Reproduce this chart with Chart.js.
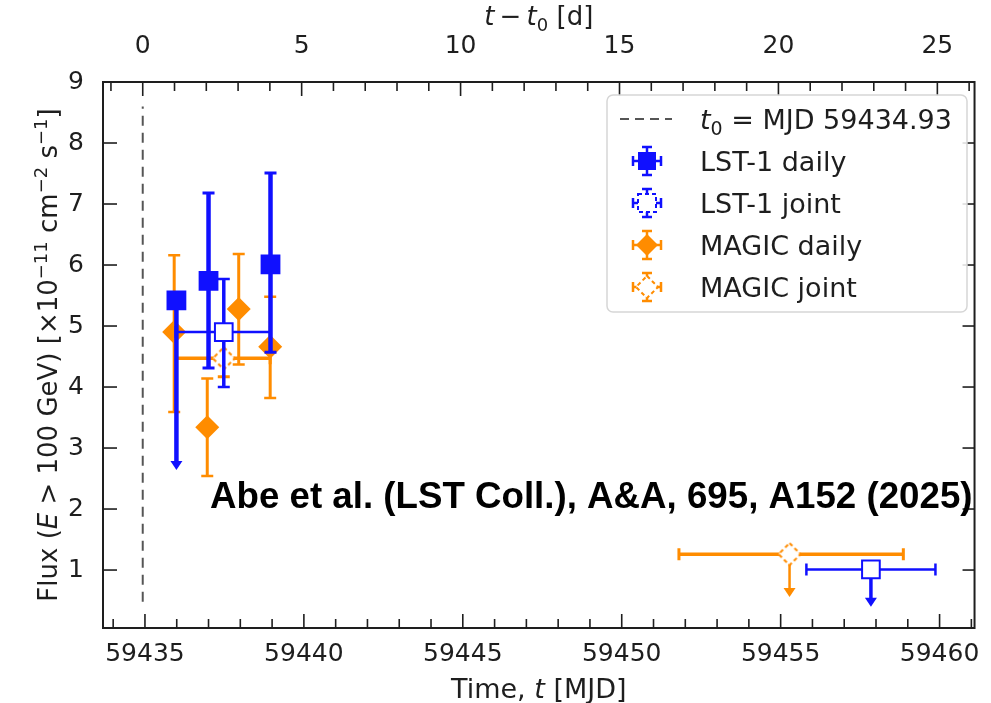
<!DOCTYPE html>
<html lang="en">
<head>
<meta charset="UTF-8">
<title>Flux light curve - LST-1 and MAGIC</title>
<style>
    html, body { margin: 0; padding: 0; background: #fff; }
    #wrap { width: 991px; height: 703px; position: relative; }
</style>
</head>
<body>
<div id="wrap"><canvas id="lc"></canvas></div>
<script src="https://cdn.jsdelivr.net/npm/chart.js"></script>
<script>
    // reference epoch (MJD)
    const t0 = 59434.93;
    const t0LineFlux = [0.48, 8.6];

    // LST-1 daily
    const lstDailyT = [59435.99, 59437.00, 59438.95];
    const lstDailyFlux = [5.42, 5.74, 6.01];
    const lstDailyLow = [2.64, 4.31, 4.57];
    const lstDailyHigh = [5.42, 7.18, 7.51];
    const lstDailyArrow = [true, false, false];

    // LST-1 joint
    const lstJointT = [59437.48, 59457.84];
    const lstJointFrom = [59435.97, 59455.81];
    const lstJointTo = [59438.94, 59459.87];
    const lstJointFlux = [4.90, 1.01];
    const lstJointLow = [4.00, 0.40];
    const lstJointHigh = [5.77, 1.01];
    const lstJointArrow = [false, true];

    // MAGIC daily
    const magicDailyT = [59435.92, 59436.96, 59437.95, 59438.94];
    const magicDailyFlux = [4.90, 3.34, 5.28, 4.66];
    const magicDailyLow = [3.59, 2.54, 4.37, 3.82];
    const magicDailyHigh = [6.16, 4.14, 6.18, 5.48];

    // MAGIC joint
    const magicJointT = [59437.48, 59455.28];
    const magicJointFrom = [59435.97, 59451.80];
    const magicJointTo = [59438.94, 59458.86];
    const magicJointFlux = [4.47, 1.26];
    const magicJointLow = [4.17, 0.56];
    const magicJointHigh = [4.77, 1.26];
    const magicJointArrow = [false, true];

    // axes
    const mjdRange = [59433.68, 59461.10];
    const mjdTicks = [59435, 59440, 59445, 59450, 59455, 59460];
    const dayTicks = [0, 5, 10, 15, 20, 25];
    const fluxRange = [0.05, 9];
    const fluxTicks = [1, 2, 3, 4, 5, 6, 7, 8, 9];

    const BLUE = '#1010ff';
    const ORANGE = '#ff8c00';
    const INK = '#1e1e1e';
    const FONT = '"DejaVu Sans", Verdana, sans-serif';

    function points(t, flux, low, high, from, to, arrow) {
        return t.map((v, i) => ({
            x: v, y: flux[i], lo: low[i], hi: high[i],
            xlo: from ? from[i] : null, xhi: to ? to[i] : null,
            arrow: arrow ? arrow[i] : false
        }));
    }

    // open diamond with dashed edge, used as point image
    function dashedDiamond(r, color) {
        const c = document.createElement('canvas');
        c.width = c.height = 2 * r + 4;
        const g = c.getContext('2d');
        const m = r + 2;
        g.beginPath();
        g.moveTo(m, m - r); g.lineTo(m + r, m); g.lineTo(m, m + r); g.lineTo(m - r, m); g.closePath();
        g.fillStyle = '#fff';
        g.fill();
        g.setLineDash([4, 3]);
        g.lineWidth = 2;
        g.strokeStyle = color;
        g.stroke();
        return c;
    }

    const openDiamond = dashedDiamond(11, ORANGE);

    // error bars are drawn just before each dataset's markers
    const errorBars = {
        id: 'errorBars',
        beforeDatasetDraw(chart, args) {
            const ds = chart.data.datasets[args.index];
            if (!ds.bar) return;
            const { ctx, chartArea: a, scales: { x, y } } = chart;
            const cap = ds.bar.cap;
            ctx.save();
            ctx.beginPath();
            ctx.rect(a.left, a.top, a.right - a.left, a.bottom - a.top);
            ctx.clip();
            ctx.strokeStyle = ds.bar.color;
            ctx.fillStyle = ds.bar.color;
            ctx.lineCap = 'butt';
            const seg = (x1, y1, x2, y2) => {
                ctx.beginPath(); ctx.moveTo(x1, y1); ctx.lineTo(x2, y2); ctx.stroke();
            };
            ds.data.forEach(p => {
                const px = x.getPixelForValue(p.x);
                const py = y.getPixelForValue(p.y);
                const top = y.getPixelForValue(p.hi);
                const bot = y.getPixelForValue(p.lo);
                ctx.lineWidth = ds.bar.v;
                seg(px, top, px, p.arrow ? bot - 6 : bot);
                ctx.lineWidth = ds.bar.c;
                if (p.hi > p.y) seg(px - cap, top, px + cap, top);
                if (p.arrow) {
                    ctx.beginPath();
                    ctx.moveTo(px - 6, bot - 9);
                    ctx.lineTo(px + 6, bot - 9);
                    ctx.lineTo(px, bot);
                    ctx.closePath();
                    ctx.fill();
                } else {
                    seg(px - cap, bot, px + cap, bot);
                }
                if (p.xlo !== null) {
                    const l = x.getPixelForValue(p.xlo);
                    const r = x.getPixelForValue(p.xhi);
                    ctx.lineWidth = ds.bar.h;
                    seg(l, py, r, py);
                    ctx.lineWidth = ds.bar.c;
                    seg(l, py - cap, l, py + cap);
                    seg(r, py - cap, r, py + cap);
                }
            });
            ctx.restore();
        }
    };

    function rich(ctx, runs, x, y, size, align) {
        const fontOf = r => (r.it ? 'italic ' : '') + (r.sup || r.sub ? Math.round(size * 0.7) : size) + 'px ' + FONT;
        let w = 0;
        runs.forEach(r => { ctx.font = fontOf(r); w += ctx.measureText(r.t).width; });
        let cx = align === 'left' ? x : x - w / 2;
        ctx.textAlign = 'left';
        ctx.textBaseline = 'alphabetic';
        runs.forEach(r => {
            ctx.font = fontOf(r);
            const dy = r.sup ? -size * 0.4 : r.sub ? size * 0.22 : 0;
            ctx.fillText(r.t, cx, y + dy);
            cx += ctx.measureText(r.t).width;
        });
    }

    function legendMarker(ctx, cx, cy, shape, color, filled) {
        ctx.save();
        ctx.strokeStyle = color;
        ctx.fillStyle = color;
        ctx.lineWidth = 2.5;
        const e = 14, c = 5;
        ctx.beginPath();
        ctx.moveTo(cx, cy - e); ctx.lineTo(cx, cy + e);
        ctx.moveTo(cx - c, cy - e); ctx.lineTo(cx + c, cy - e);
        ctx.moveTo(cx - c, cy + e); ctx.lineTo(cx + c, cy + e);
        ctx.moveTo(cx - e, cy); ctx.lineTo(cx + e, cy);
        ctx.moveTo(cx - e, cy - c); ctx.lineTo(cx - e, cy + c);
        ctx.moveTo(cx + e, cy - c); ctx.lineTo(cx + e, cy + c);
        ctx.stroke();
        ctx.beginPath();
        if (shape === 'square') {
            ctx.rect(cx - 9, cy - 9, 18, 18);
        } else {
            ctx.moveTo(cx, cy - 11); ctx.lineTo(cx + 11, cy); ctx.lineTo(cx, cy + 11); ctx.lineTo(cx - 11, cy); ctx.closePath();
        }
        if (filled) {
            ctx.fill();
        } else {
            ctx.fillStyle = '#fff';
            ctx.fill();
            ctx.lineWidth = 2;
            ctx.setLineDash([4, 3]);
            ctx.stroke();
        }
        ctx.restore();
    }

    // frame, inward ticks, axis titles, legend and credit line
    const decorations = {
        id: 'decorations',
        afterDraw(chart) {
            const { ctx, chartArea: a, scales: { x, x2, y } } = chart;
            ctx.save();
            ctx.strokeStyle = INK;
            ctx.lineWidth = 1.6;
            const tick = (x1, y1, x2_, y2) => { ctx.beginPath(); ctx.moveTo(x1, y1); ctx.lineTo(x2_, y2); ctx.stroke(); };
            for (let m = Math.ceil(mjdRange[0]); m <= mjdRange[1]; m++) {
                const px = x.getPixelForValue(m);
                const len = mjdTicks.includes(m) ? 14 : 9;
                tick(px, a.bottom, px, a.bottom - len);
            }
            for (let d = Math.ceil(mjdRange[0] - t0); d <= mjdRange[1] - t0; d++) {
                const px = x2.getPixelForValue(d);
                const len = dayTicks.includes(d) ? 14 : 9;
                tick(px, a.top, px, a.top + len);
            }
            fluxTicks.forEach(v => {
                const py = y.getPixelForValue(v);
                tick(a.left, py, a.left + 14, py);
                tick(a.right, py, a.right - 12, py);
            });
            ctx.lineWidth = 2;
            ctx.strokeRect(a.left, a.top, a.right - a.left, a.bottom - a.top);

            // axis titles
            ctx.fillStyle = INK;
            rich(ctx, [{ t: 'Time, ' }, { t: 't', it: true }, { t: ' [MJD]' }], (a.left + a.right) / 2, 698, 27);
            rich(ctx, [{ t: 't', it: true }, { t: '\u2009−\u2009' }, { t: 't', it: true }, { t: '0', sub: true }, { t: ' [d]' }],
                (a.left + a.right) / 2, 25, 26);
            ctx.save();
            ctx.translate(57, (a.top + a.bottom) / 2);
            ctx.rotate(-Math.PI / 2);
            rich(ctx, [{ t: 'Flux (' }, { t: 'E', it: true }, { t: ' > 100 GeV) [×10' }, { t: '−11', sup: true },
                { t: ' cm' }, { t: '−2', sup: true }, { t: ' s' }, { t: '−1', sup: true }, { t: ']' }], 0, 0, 26);
            ctx.restore();

            // legend
            const lx = 607, ly = 95, lw = 360, lh = 217;
            ctx.beginPath();
            ctx.roundRect(lx, ly, lw, lh, 6);
            ctx.fillStyle = 'rgba(255,255,255,0.85)';
            ctx.fill();
            ctx.strokeStyle = '#d6d6d6';
            ctx.lineWidth = 1.5;
            ctx.stroke();
            const rows = [119, 161, 203, 245, 287];
            ctx.strokeStyle = '#555';
            ctx.lineWidth = 2;
            ctx.setLineDash([9, 6]);
            tick(620, rows[0], 672, rows[0]);
            ctx.setLineDash([]);
            legendMarker(ctx, 647, rows[1], 'square', BLUE, true);
            legendMarker(ctx, 647, rows[2], 'square', BLUE, false);
            legendMarker(ctx, 647, rows[3], 'diamond', ORANGE, true);
            legendMarker(ctx, 647, rows[4], 'diamond', ORANGE, false);
            ctx.fillStyle = INK;
            const base = 10;
            rich(ctx, [{ t: 't', it: true }, { t: '0', sub: true }, { t: ' = MJD 59434.93' }], 700, rows[0] + base, 27, 'left');
            rich(ctx, [{ t: 'LST-1 daily' }], 700, rows[1] + base, 27, 'left');
            rich(ctx, [{ t: 'LST-1 joint' }], 700, rows[2] + base, 27, 'left');
            rich(ctx, [{ t: 'MAGIC daily' }], 700, rows[3] + base, 27, 'left');
            rich(ctx, [{ t: 'MAGIC joint' }], 700, rows[4] + base, 27, 'left');

            // credit line
            const credit = 'Abe et al. (LST Coll.), A&A, 695, A152 (2025)';
            ctx.font = 'bold 36px "Liberation Sans", Arial, sans-serif';
            const size = 36 * 762 / ctx.measureText(credit).width;
            ctx.font = 'bold ' + size.toFixed(1) + 'px "Liberation Sans", Arial, sans-serif';
            ctx.fillStyle = '#000';
            ctx.textAlign = 'left';
            ctx.textBaseline = 'alphabetic';
            ctx.fillText(credit, 210, 508);
            ctx.restore();
        }
    };

    const tickFont = { family: 'DejaVu Sans', size: 25 };

    new Chart(document.getElementById('lc'), {
        type: 'scatter',
        data: {
            datasets: [
                {
                    label: 'LST-1 daily',
                    data: points(lstDailyT, lstDailyFlux, lstDailyLow, lstDailyHigh, null, null, lstDailyArrow),
                    pointStyle: 'rect', pointRadius: 14,
                    backgroundColor: BLUE, borderColor: BLUE, borderWidth: 0,
                    bar: { color: BLUE, v: 4.5, h: 3, c: 3, cap: 6 }
                },
                {
                    label: 'LST-1 joint',
                    data: points(lstJointT, lstJointFlux, lstJointLow, lstJointHigh, lstJointFrom, lstJointTo, lstJointArrow),
                    pointStyle: 'rect', pointRadius: 12.5,
                    backgroundColor: '#fff', borderColor: BLUE, borderWidth: 2,
                    bar: { color: BLUE, v: 3.5, h: 2.5, c: 2.5, cap: 6 }
                },
                {
                    label: 'MAGIC daily',
                    data: points(magicDailyT, magicDailyFlux, magicDailyLow, magicDailyHigh),
                    pointStyle: 'rectRot', pointRadius: 12,
                    backgroundColor: ORANGE, borderColor: ORANGE, borderWidth: 0,
                    bar: { color: ORANGE, v: 3, h: 2, c: 2.5, cap: 6 }
                },
                {
                    label: 'MAGIC joint',
                    data: points(magicJointT, magicJointFlux, magicJointLow, magicJointHigh, magicJointFrom, magicJointTo, magicJointArrow),
                    pointStyle: openDiamond,
                    bar: { color: ORANGE, v: 2.5, h: 3.5, c: 3, cap: 6 }
                },
                {
                    label: 't0',
                    data: t0LineFlux.map(v => ({ x: t0, y: v })),
                    showLine: true, pointRadius: 0,
                    borderColor: '#555', borderWidth: 2, borderDash: [10, 7]
                }
            ]
        },
        options: {
            responsive: true,
            maintainAspectRatio: false,
            animation: false,
            events: [],
            layout: { padding: { left: 0, right: 14, top: 0, bottom: 0 } },
            plugins: { legend: { display: false }, tooltip: { enabled: false } },
            scales: {
                x: {
                    type: 'linear', position: 'bottom',
                    min: mjdRange[0], max: mjdRange[1],
                    grid: { display: false, drawTicks: false }, border: { display: false },
                    afterBuildTicks: s => { s.ticks = mjdTicks.map(v => ({ value: v })); },
                    afterFit: s => { s.height = 75; },
                    ticks: { font: tickFont, color: INK, padding: 11, maxRotation: 0, callback: v => String(v) }
                },
                x2: {
                    type: 'linear', position: 'top',
                    min: mjdRange[0] - t0, max: mjdRange[1] - t0,
                    grid: { display: false, drawTicks: false }, border: { display: false },
                    afterBuildTicks: s => { s.ticks = dayTicks.map(v => ({ value: v })); },
                    afterFit: s => { s.height = 82; },
                    ticks: { font: tickFont, color: INK, padding: 21, maxRotation: 0 }
                },
                y: {
                    type: 'linear', position: 'left',
                    min: fluxRange[0], max: fluxRange[1],
                    grid: { display: false, drawTicks: false }, border: { display: false },
                    afterBuildTicks: s => { s.ticks = fluxTicks.map(v => ({ value: v })); },
                    afterFit: s => { s.width = 103; },
                    ticks: { font: tickFont, color: INK, padding: 19 }
                }
            }
        },
        plugins: [errorBars, decorations]
    });
</script>
</body>
</html>
